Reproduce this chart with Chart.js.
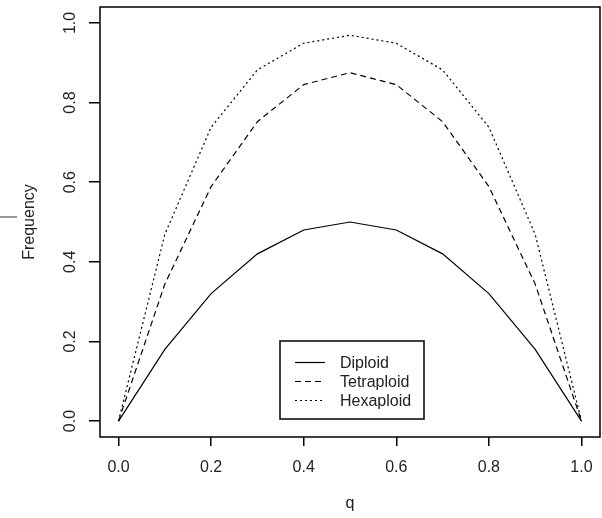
<!DOCTYPE html>
<html><head><meta charset="utf-8">
<script src="https://cdn.jsdelivr.net/npm/chart.js@4/dist/chart.umd.min.js"></script>
<style>html,body{margin:0;padding:0;background:#fff}#wrap{width:602px;height:518px}</style>
</head><body><div id="wrap"><canvas id="c" width="602" height="518"></canvas></div>
<script>
// ---- data ----
const qValues    = [0, 0.1, 0.2, 0.3, 0.4, 0.5, 0.6, 0.7, 0.8, 0.9, 1.0];
const diploid    = [0, 0.18, 0.32, 0.42, 0.48, 0.50, 0.48, 0.42, 0.32, 0.18, 0];
const tetraploid = [0, 0.344, 0.589, 0.752, 0.845, 0.875, 0.845, 0.752, 0.589, 0.344, 0];
const hexaploid  = [0, 0.469, 0.738, 0.882, 0.949, 0.969, 0.949, 0.882, 0.738, 0.469, 0];
const seriesNames = ['Diploid', 'Tetraploid', 'Hexaploid'];
const xTicks = [0, 0.2, 0.4, 0.6, 0.8, 1.0];
const xTickLabels = ['0.0', '0.2', '0.4', '0.6', '0.8', '1.0'];
const yTicks = [0, 0.2, 0.4, 0.6, 0.8, 1.0];
const yTickLabels = ['0.0', '0.2', '0.4', '0.6', '0.8', '1.0'];
const xTitle = 'q';
const yTitle = 'Frequency';

const FONT = {family: '"Liberation Sans", Arial, sans-serif', size: 16};
const TXT = '#222';
const toPts = arr => arr.map((y, i) => ({x: qValues[i], y}));

const boxPlugin = {
  id: 'rbox',
  afterDraw(chart) {
    const {ctx, chartArea: a} = chart;
    ctx.save();
    ctx.strokeStyle = '#000';
    ctx.lineWidth = 1.5;
    ctx.strokeRect(a.left, a.top, a.right - a.left, a.bottom - a.top);
    // stray mark at left margin in the reference
    ctx.strokeStyle = '#999';
    ctx.lineWidth = 2;
    ctx.beginPath();
    ctx.moveTo(0, (a.top + a.bottom) / 2 - 5);
    ctx.lineTo(17, (a.top + a.bottom) / 2 - 5);
    ctx.stroke();
    // legend
    const w = 144, h = 78;
    const bx = (a.left + a.right) / 2 - w / 2 + 2;
    const by = a.bottom - 18 - h;
    ctx.fillStyle = '#fff';
    ctx.fillRect(bx, by, w, h);
    ctx.strokeStyle = '#000';
    ctx.lineWidth = 1.5;
    ctx.strokeRect(bx, by, w, h);
    ctx.font = FONT.size + 'px ' + FONT.family;
    ctx.textBaseline = 'middle';
    ctx.textAlign = 'left';
    chart.data.datasets.forEach((ds, i) => {
      const y = by + 21.5 + i * 19;
      ctx.setLineDash(ds.borderDash || []);
      ctx.lineWidth = 1.2;
      ctx.strokeStyle = '#000';
      ctx.beginPath();
      ctx.moveTo(bx + 15, y);
      ctx.lineTo(bx + 45, y);
      ctx.stroke();
      ctx.setLineDash([]);
      ctx.fillStyle = TXT;
      ctx.fillText(ds.label, bx + 60, y + 1);
    });
    ctx.restore();
  }
};

const mk = (label, data, dash) => ({
  label, data: toPts(data), borderColor: '#000', borderWidth: 1.2,
  borderDash: dash, pointRadius: 0, tension: 0, fill: false
});

new Chart(document.getElementById('c'), {
  type: 'line',
  data: {
    datasets: [
      mk(seriesNames[0], diploid, []),
      mk(seriesNames[1], tetraploid, [6, 4]),
      mk(seriesNames[2], hexaploid, [2, 3])
    ]
  },
  options: {
    responsive: false,
    animation: false,
    devicePixelRatio: 1,
    layout: {padding: {top: 7, right: 2, left: 0, bottom: 0}},
    plugins: {legend: {display: false}, tooltip: {enabled: false}},
    scales: {
      x: {
        type: 'linear', min: -0.04, max: 1.04,
        afterBuildTicks: s => { s.ticks = xTicks.map(v => ({value: v})); },
        afterFit: s => { s.height = 81; s.paddingLeft = 0; s.paddingRight = 0; },
        grid: {drawOnChartArea: false, drawTicks: true, tickLength: 9, color: '#000', lineWidth: 1.5},
        border: {display: false},
        ticks: {autoSkip: false, maxRotation: 0, minRotation: 0, padding: 12, font: FONT, color: TXT,
                callback: (v, i) => xTickLabels[i]},
        title: {display: true, text: xTitle, font: FONT, color: TXT, padding: {top: 0, bottom: 5}}
      },
      y: {
        type: 'linear', min: -0.04, max: 1.04,
        afterBuildTicks: s => { s.ticks = yTicks.map(v => ({value: v})); },
        afterFit: s => { s.width = 100; s.paddingTop = 0; s.paddingBottom = 0; },
        grid: {drawOnChartArea: false, drawTicks: true, tickLength: 11, color: '#000', lineWidth: 1.5},
        border: {display: false},
        ticks: {autoSkip: false, minRotation: 90, maxRotation: 90, crossAlign: 'center', padding: 7,
                font: FONT, color: TXT, callback: (v, i) => yTickLabels[i]},
        title: {display: true, text: yTitle, font: FONT, color: TXT, padding: {top: 20, bottom: 0}}
      }
    }
  },
  plugins: [boxPlugin]
});
</script>
</body></html>
